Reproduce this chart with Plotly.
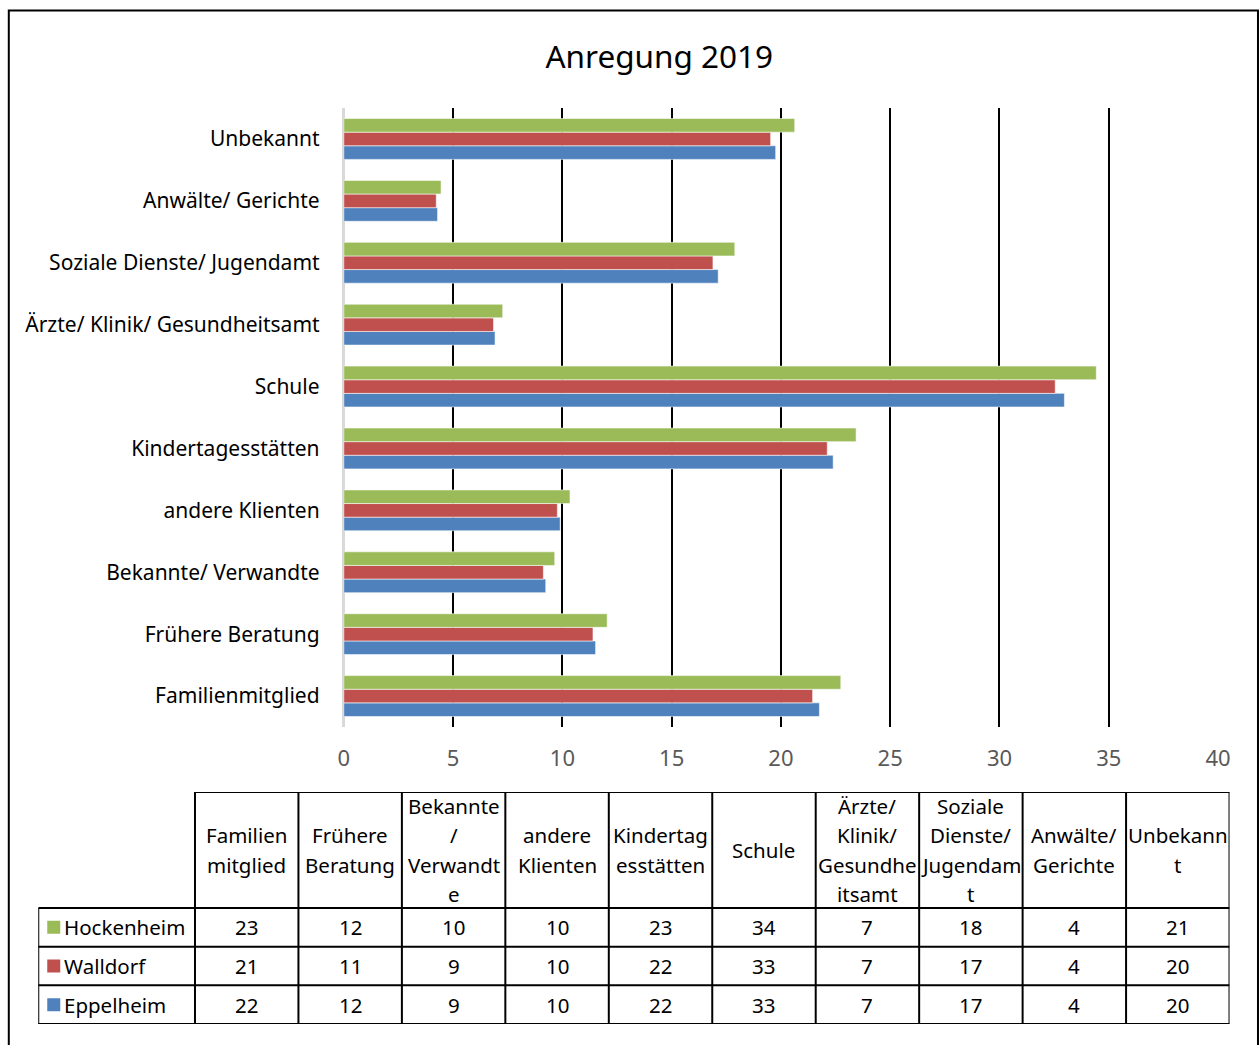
import plotly.graph_objects as go

# ---- data -------------------------------------------------------------
categories = [
    "Familienmitglied",
    "Frühere Beratung",
    "Bekannte/ Verwandte",
    "andere Klienten",
    "Kindertagesstätten",
    "Schule",
    "Ärzte/ Klinik/ Gesundheitsamt",
    "Soziale Dienste/ Jugendamt",
    "Anwälte/ Gerichte",
    "Unbekannt",
]

# column headers of the data table (wrapped as in the source sheet)
table_headers = [
    ["Familien", "mitglied"],
    ["Frühere", "Beratung"],
    ["Bekannte", "/", "Verwandt", "e"],
    ["andere", "Klienten"],
    ["Kindertag", "esstätten"],
    ["Schule"],
    ["Ärzte/", "Klinik/", "Gesundhe", "itsamt"],
    ["Soziale", "Dienste/", "Jugendam", "t"],
    ["Anwälte/", "Gerichte"],
    ["Unbekann", "t"],
]

hockenheim = [22.74, 12.05, 9.65, 10.35, 23.44, 34.43, 7.27, 17.89, 4.45, 20.63]
walldorf = [21.45, 11.40, 9.13, 9.77, 22.12, 32.55, 6.85, 16.89, 4.23, 19.53]
eppelheim = [21.76, 11.52, 9.24, 9.90, 22.39, 32.97, 6.92, 17.13, 4.29, 19.76]

series_names = ["Hockenheim", "Walldorf", "Eppelheim"]
series_values = [hockenheim, walldorf, eppelheim]
series_colors = ["#9BBB59", "#C0504D", "#4F81BD"]

x_ticks = list(range(0, 41, 5))

# ---- layout constants --------------------------------------------------
W, H = 1260, 1045
FONT = "Noto Sans"
TXT = 20.5

# horizontal placement helper (the drawn page ends up ~1243 px wide, offset ~4.7 px)
PAGE_X0, PAGE_W = 4.7, 1242.8


def px_x(p):
    return (p - PAGE_X0) / PAGE_W


def px_y(p):
    return 1 - p / H


fig = go.Figure()

# bars: drawn bottom-to-top inside each group (Eppelheim lowest)
for name, vals, col in reversed(list(zip(series_names, series_values, series_colors))):
    fig.add_trace(go.Bar(
        y=categories, x=vals, name=name, orientation="h",
        marker=dict(color=col, line=dict(color="rgba(255,255,255,0.55)", width=1)),
        showlegend=False, hoverinfo="x+name",
    ))

# dummy trace so the table axes exist
fig.add_trace(go.Scatter(x=[None], y=[None], xaxis="x2", yaxis="y2",
                         showlegend=False, hoverinfo="skip"))

# ---- data table drawn on its own hidden axes ---------------------------
n_cols = len(categories)
label_w = 1.515          # width of the row-label column in column units
header_h = 3             # header height in row units
n_rows = len(series_names)
bottom = header_h + n_rows
line = dict(color="black", width=2)

shapes = []
# horizontal rules
shapes.append(dict(type="line", xref="x2", yref="y2", x0=0, x1=n_cols, y0=0, y1=0, line=line))
for r in range(n_rows + 1):
    yy = header_h + r
    shapes.append(dict(type="line", xref="x2", yref="y2", x0=-label_w, x1=n_cols,
                       y0=yy, y1=yy, line=line))
# vertical rules
for c in range(n_cols + 1):
    shapes.append(dict(type="line", xref="x2", yref="y2", x0=c, x1=c, y0=0, y1=bottom, line=line))
shapes.append(dict(type="line", xref="x2", yref="y2", x0=-label_w, x1=-label_w,
                   y0=header_h, y1=bottom, line=line))

# legend keys in the row-label cells
for r, col in enumerate(series_colors):
    shapes.append(dict(type="rect", xref="x2", yref="y2",
                       xsizemode="pixel", xanchor=-label_w, x0=9, x1=22,
                       ysizemode="pixel", yanchor=header_h + r + 0.5, y0=-6.5, y1=6.5,
                       fillcolor=col, line=dict(width=0)))

# outer frame of the whole chart
shapes.append(dict(type="rect", xref="paper", yref="paper",
                   x0=px_x(7.5), x1=px_x(1258.5), y0=px_y(1050), y1=px_y(10.5),
                   line=dict(color="black", width=2), fillcolor="rgba(0,0,0,0)", layer="above"))

annotations = []
line_step = 0.766
for c, lines in enumerate(table_headers):
    n = len(lines)
    for k, txt in enumerate(lines):
        annotations.append(dict(
            xref="x2", yref="y2", x=c + 0.5, y=1.5 + (k - (n - 1) / 2) * line_step,
            text=txt, showarrow=False, xanchor="center", yanchor="middle",
            font=dict(family=FONT, size=TXT, color="black"),
        ))

for r, (name, vals) in enumerate(zip(series_names, series_values)):
    yy = header_h + r + 0.5
    annotations.append(dict(
        xref="x2", yref="y2", x=-label_w, y=yy, xshift=24,
        text=name, showarrow=False, xanchor="left", yanchor="middle",
        font=dict(family=FONT, size=TXT, color="black"),
    ))
    for c, v in enumerate(vals):
        annotations.append(dict(
            xref="x2", yref="y2", x=c + 0.5, y=yy, text=str(round(v)),
            showarrow=False, xanchor="center", yanchor="middle",
            font=dict(family=FONT, size=TXT, color="black"),
        ))

fig.update_layout(
    width=W, height=H, autosize=False,
    margin=dict(l=0, r=0, t=0, b=0),
    paper_bgcolor="white", plot_bgcolor="white",
    barmode="group", bargap=0.34, bargroupgap=0,
    title=dict(text="Anregung 2019", x=px_x(655), y=px_y(57),
               xanchor="center", yanchor="middle",
               font=dict(family=FONT, size=31.5, color="black")),
    xaxis=dict(
        domain=[px_x(343), px_x(1218.5)], range=[0, 40],
        tickvals=x_ticks, ticktext=[str(t) for t in x_ticks],
        showgrid=True, gridcolor="black", gridwidth=2,
        zeroline=True, zerolinecolor="#D9D9D9", zerolinewidth=2,
        showline=False, ticks="", ticklabelstandoff=16,
        tickfont=dict(family=FONT, size=22, color="#595959"),
        fixedrange=True,
    ),
    yaxis=dict(
        domain=[px_y(727), px_y(108)],
        categoryorder="array", categoryarray=categories,
        showline=True, linecolor="#D9D9D9", linewidth=2,
        showgrid=False, ticks="", ticklabelstandoff=18,
        tickfont=dict(family=FONT, size=21, color="black"),
        fixedrange=True,
    ),
    xaxis2=dict(domain=[px_x(37), px_x(1230)], range=[-label_w, n_cols],
                visible=False, anchor="y2", fixedrange=True),
    yaxis2=dict(domain=[px_y(1024), px_y(792)], range=[bottom, 0],
                visible=False, anchor="x2", fixedrange=True),
    shapes=shapes,
    annotations=annotations,
)

fig.write_html(
    "out.html",
    config={"displayModeBar": False},
    post_script="document.body.style.margin='0';",
)
